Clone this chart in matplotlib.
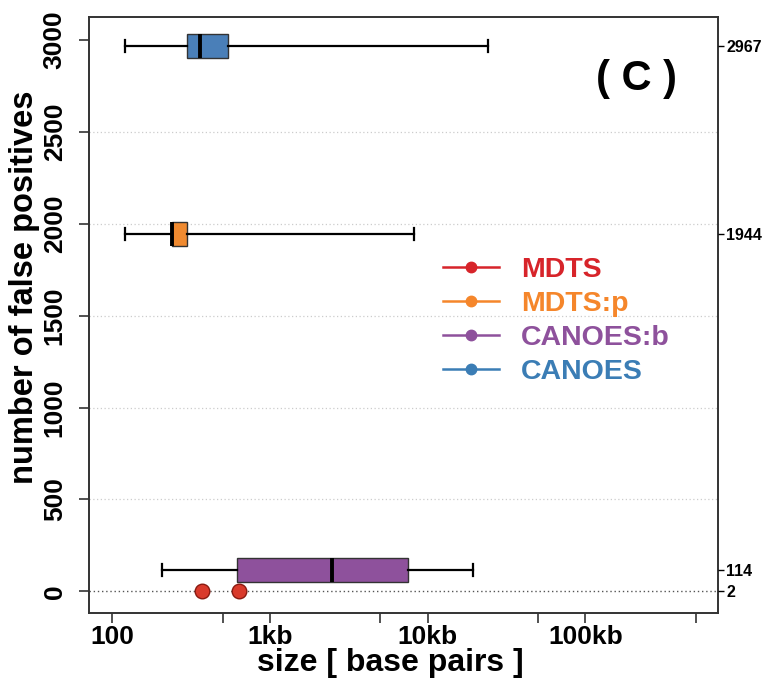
import numpy as np
import matplotlib
matplotlib.use("Agg")
import matplotlib.pyplot as plt
from matplotlib.lines import Line2D

plt.rcParams['font.family'] = ['Liberation Sans', 'DejaVu Sans']
plt.rcParams['font.weight'] = 'bold'

# box plot summaries (size in bp)
methods = ["CANOES", "MDTS:p", "CANOES:b"]
counts = [2967, 1944, 114]
whislo = [120, 120, 206]
q1 = [298, 238, 615]
med = [360, 238, 2470]
q3 = [542, 299, 7500]
whishi = [24100, 8190, 19400]
box_colors = ["#4A7FB8", "#F08A30", "#8E519C"]

# MDTS: only two calls
mdts_count = 2
mdts_sizes = [370, 633]

legend_names = ["MDTS", "MDTS:p", "CANOES:b", "CANOES"]
legend_colors = ["#D7242A", "#F5862B", "#8E519C", "#3B7DB5"]

right_ticks = [2967, 1944, 114, 2]
x_ticks = [100, 500, 1000, 5000, 10000, 50000, 100000, 500000]
x_labels = ["100", "", "1kb", "", "10kb", "", "100kb", ""]

fig = plt.figure(figsize=(7.67, 6.83), dpi=100)
ax = fig.add_axes([0.116, 0.1025, 0.820, 0.8726])

stats = []
for i in range(len(methods)):
    stats.append(dict(whislo=whislo[i], q1=q1[i], med=med[i], q3=q3[i],
                      whishi=whishi[i], fliers=[], label=methods[i]))

bp = ax.bxp(stats, positions=counts, widths=130, vert=False, patch_artist=True,
            showfliers=False, capwidths=65, manage_ticks=False,
            boxprops=dict(edgecolor="#333333", linewidth=1.0),
            medianprops=dict(color="black", linewidth=2.8),
            whiskerprops=dict(color="black", linewidth=1.6),
            capprops=dict(color="black", linewidth=1.6))
for patch, c in zip(bp['boxes'], box_colors):
    patch.set_facecolor(c)

# grid and baseline
for g in [500, 1000, 1500, 2000, 2500]:
    ax.axhline(g, color="#cccccc", linestyle=(0, (1, 2)), linewidth=0.9, zorder=0)
ax.axhline(mdts_count, color="#555555", linestyle=(0, (1, 2)), linewidth=1.0, zorder=1)

ax.plot(mdts_sizes, [mdts_count] * len(mdts_sizes), 'o', color="#D93A2B",
        markeredgecolor="#8a1a10", markersize=10.5, zorder=5, clip_on=False)

ax.set_xscale('log')
ax.set_xlim(71, 693000)
ax.set_ylim(-118, 3126)
ax.set_xticks(x_ticks)
ax.set_xticklabels(x_labels, fontsize=19, fontweight='bold')
ax.xaxis.set_minor_locator(matplotlib.ticker.NullLocator())
ax.set_yticks(np.arange(0, 3001, 500))
ax.set_yticklabels([str(v) for v in np.arange(0, 3001, 500)], rotation=90,
                   va='center', fontsize=19, fontweight='bold')
ax.tick_params(axis='both', length=7, width=1.2, color="#333333")
ax.tick_params(axis='x', pad=1.5)
ax.tick_params(axis='y', pad=9)

ax.set_xlabel("size [ base pairs ]", fontsize=23, fontweight='bold', va='center')
ax.xaxis.set_label_coords(0.479, -0.084)
ax.set_ylabel("number of false positives", fontsize=23.5, fontweight='bold', va='center')
ax.yaxis.set_label_coords(-0.103, 0.546)

for s in ax.spines.values():
    s.set_linewidth(1.4)
    s.set_color("#333333")

ax2 = ax.twinx()
ax2.set_ylim(ax.get_ylim())
ax2.set_yticks(right_ticks)
ax2.set_yticklabels([str(v) for v in right_ticks], fontsize=11.5, fontweight='bold')
ax2.tick_params(axis='y', length=4, width=1.0, pad=2)
for s in ax2.spines.values():
    s.set_visible(False)

ax.text(0.871, 0.896, "( C )", transform=ax.transAxes, fontsize=30,
        fontweight='bold', ha='center', va='center')

handles = [Line2D([0], [0], color=c, marker='o', markersize=7.5, linewidth=1.8)
           for c in legend_colors]
leg = ax.legend(handles, legend_names, loc='upper left', bbox_to_anchor=(0.563, 0.598),
                frameon=False, fontsize=20.5, handlelength=1.95, handletextpad=0.8,
                labelspacing=0.29, borderpad=0, borderaxespad=0)
for t, c in zip(leg.get_texts(), legend_colors):
    t.set_color(c)
    t.set_fontweight('bold')

fig.savefig("out.png", dpi=100)
